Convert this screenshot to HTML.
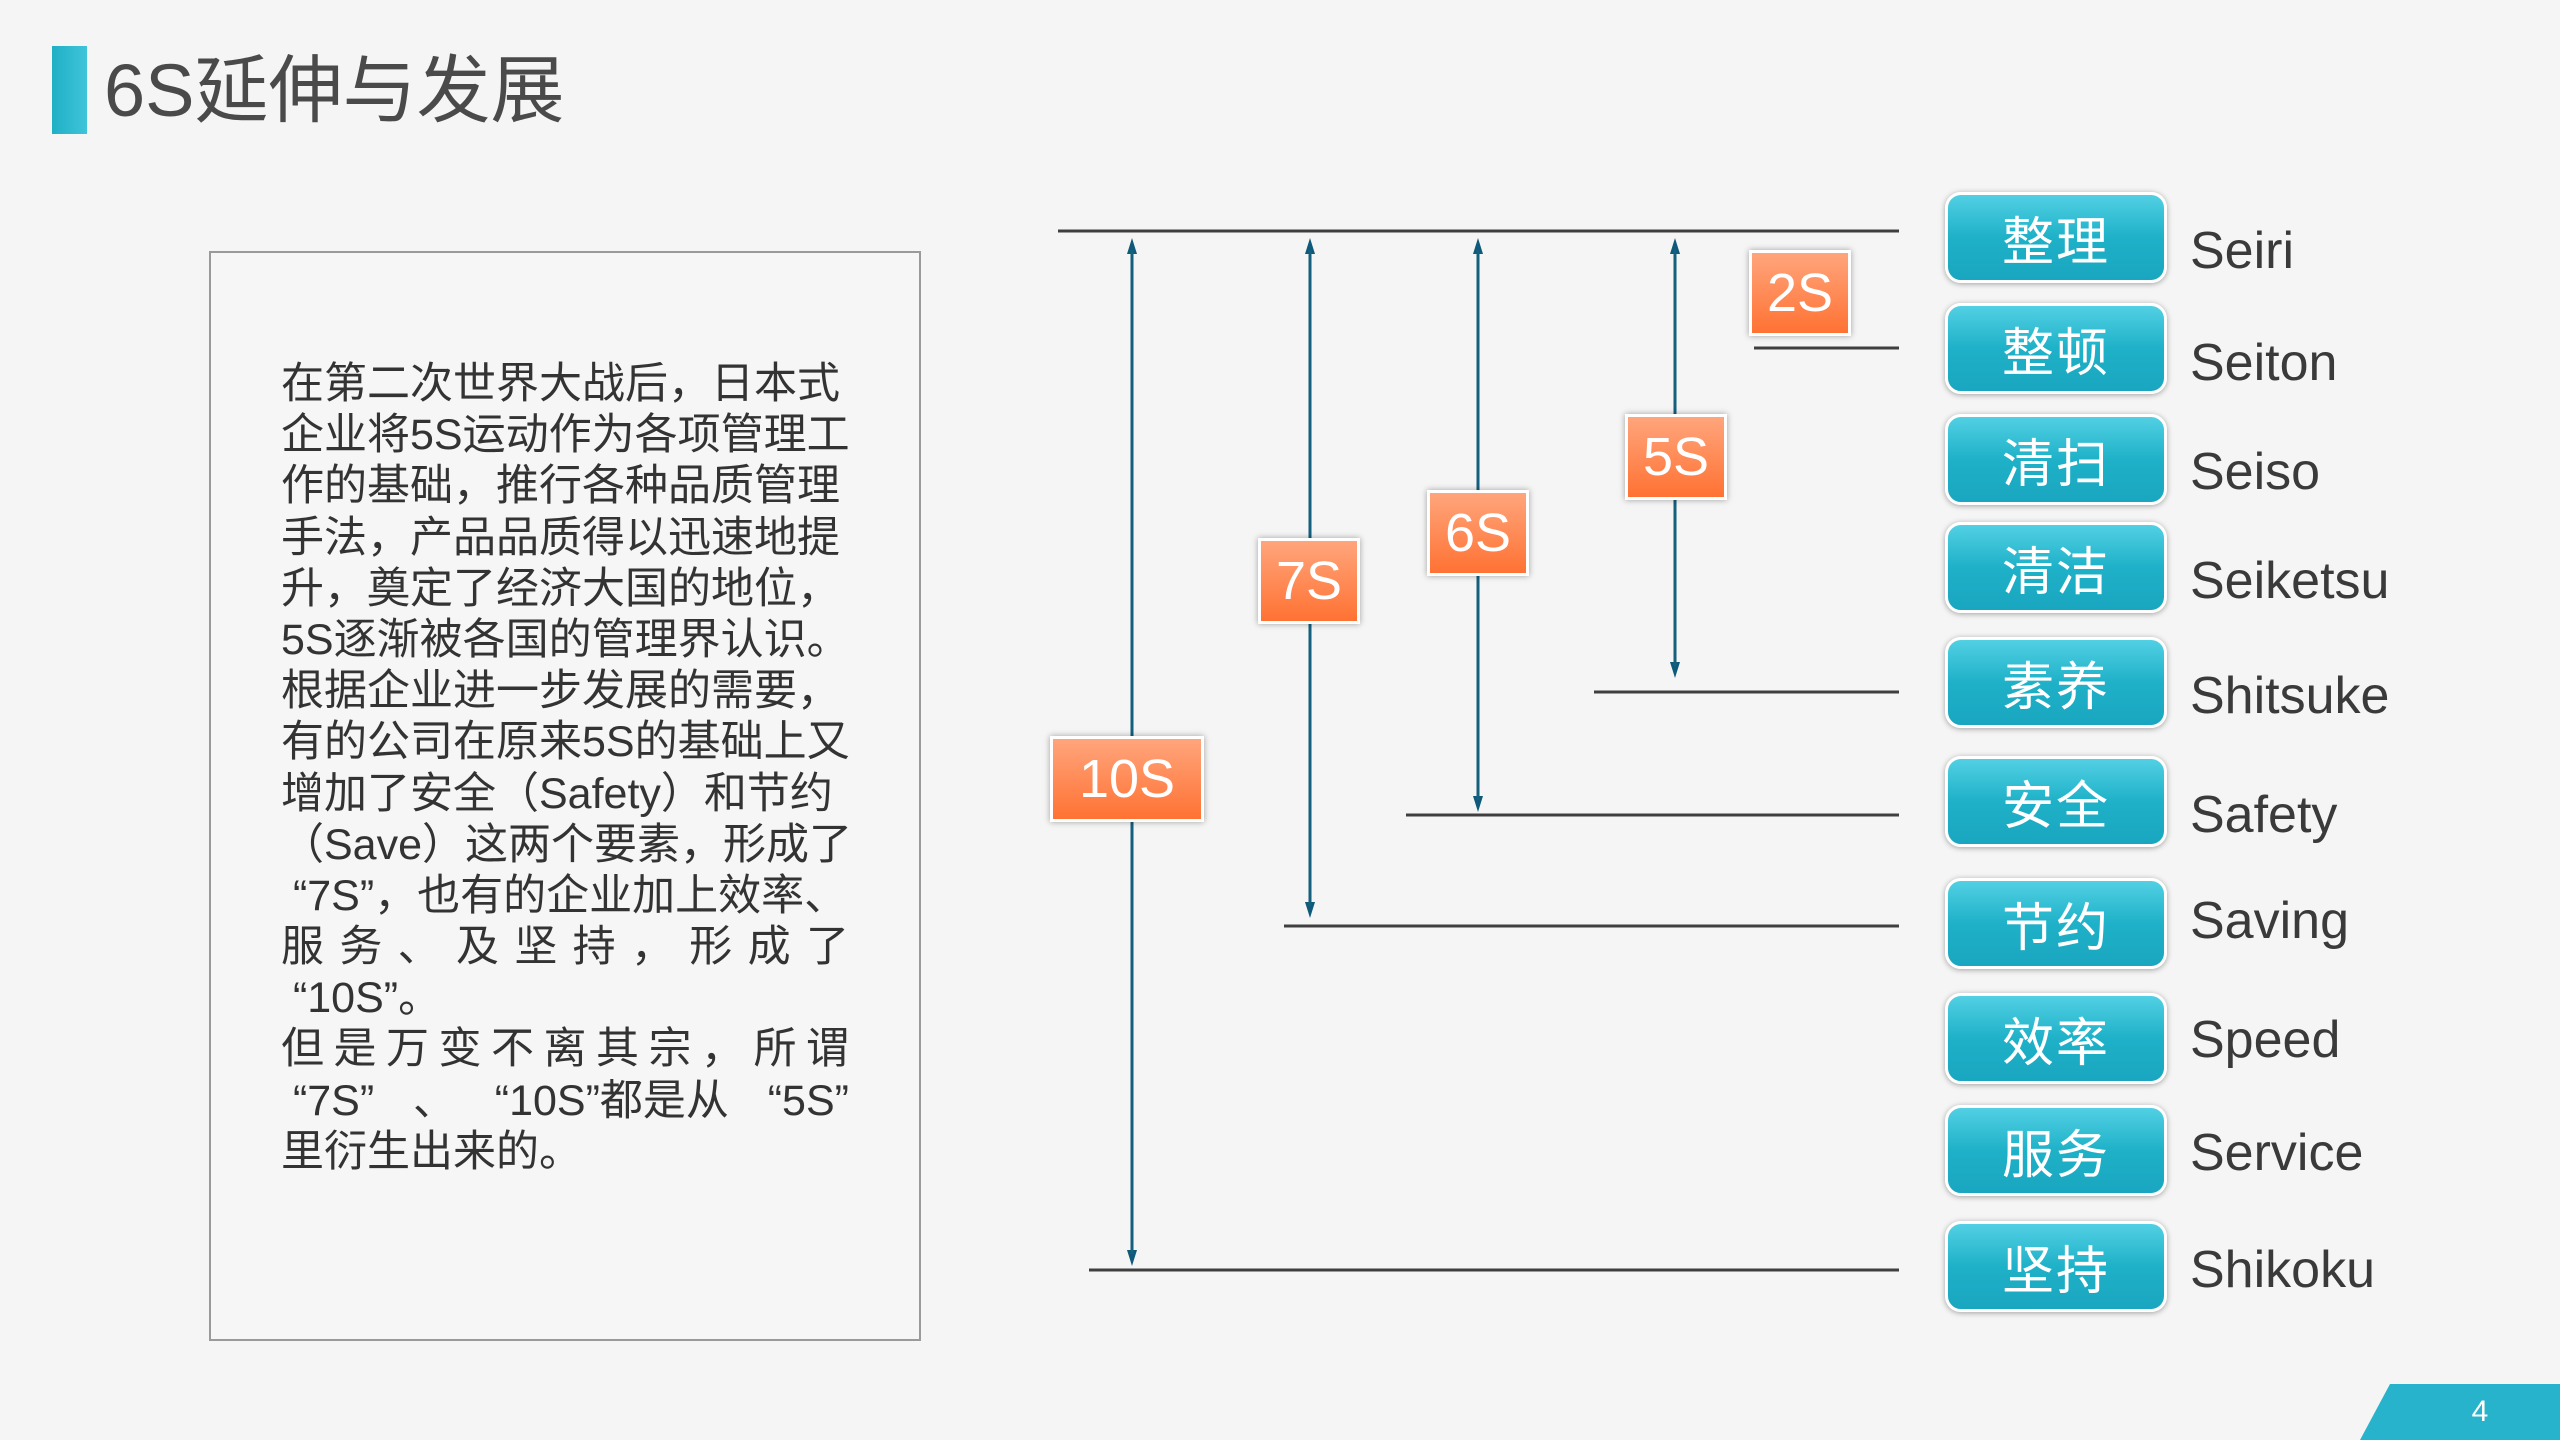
<!DOCTYPE html>
<html><head><meta charset="utf-8"><style>
body{margin:0;width:2560px;height:1440px;background:#f5f5f5;position:relative;overflow:hidden;font-family:"Liberation Sans","Noto Sans CJK SC",sans-serif;}
.a{position:absolute}
.t{position:absolute;left:281px;top:359px;width:568px;font-size:43px;line-height:51.2px;color:#333}
.t div{white-space:nowrap;height:51.2px}
.t div.j{display:flex;justify-content:space-between}
.ob{position:absolute;background:linear-gradient(#ffa57c,#ff7233);border:3px solid #fff;box-shadow:0 0 6px rgba(0,0,0,.35);color:#fff;font-size:54px;display:flex;align-items:center;justify-content:center;box-sizing:border-box}
.bb{position:absolute;left:1945px;width:222px;height:91px;border:3px solid #fff;border-radius:16px;box-sizing:border-box;background:linear-gradient(#52d0e4,#1eb1c8 50%,#1aa6c0);box-shadow:0 1px 6px rgba(0,0,0,.35);color:#fff;font-size:52px;display:flex;align-items:center;justify-content:center;letter-spacing:2px}
.en{position:absolute;left:2190px;font-size:52px;color:#3a3a3a;line-height:60px}
</style></head><body>
<div class="a" style="left:52px;top:46px;width:35px;height:88px;background:linear-gradient(90deg,#1fb0c6,#3fc4da)"></div>
<div class="a" style="left:104px;top:46px;font-size:74px;color:#4a4a4a;line-height:90px">6S延伸与发展</div>
<div class="a" style="left:209px;top:251px;width:708px;height:1086px;border:2px solid #9a9a9a;background:#f6f6f6"></div>
<div class="t">
<div>在第二次世界大战后，日本式</div>
<div>企业将5S运动作为各项管理工</div>
<div>作的基础，推行各种品质管理</div>
<div>手法，产品品质得以迅速地提</div>
<div>升，奠定了经济大国的地位，</div>
<div>5S逐渐被各国的管理界认识。</div>
<div>根据企业进一步发展的需要，</div>
<div>有的公司在原来5S的基础上又</div>
<div>增加了安全（Safety）和节约</div>
<div>（Save）这两个要素，形成了</div>
<div>&nbsp;“7S”，也有的企业加上效率、</div>
<div class="j"><span>服</span><span>务</span><span>、</span><span>及</span><span>坚</span><span>持</span><span>，</span><span>形</span><span>成</span><span>了</span></div>
<div>&nbsp;“10S”。</div>
<div class="j"><span>但</span><span>是</span><span>万</span><span>变</span><span>不</span><span>离</span><span>其</span><span>宗</span><span>，</span><span>所</span><span>谓</span></div>
<div class="j"><span>&nbsp;“7S”</span><span>、</span><span>“10S”都是从</span><span>“5S”</span></div>
<div>里衍生出来的。</div>
</div>
<svg class="a" style="left:0;top:0" width="2560" height="1440">
<g fill="#0f5a7a">
<polygon points="1132,238 1127,254 1137,254"/><polygon points="1132,1266 1127,1250 1137,1250"/>
<polygon points="1310,238 1305,254 1315,254"/><polygon points="1310,918 1305,902 1315,902"/>
<polygon points="1478,238 1473,254 1483,254"/><polygon points="1478,812 1473,796 1483,796"/>
<polygon points="1675,238 1670,254 1680,254"/><polygon points="1675,678 1670,662 1680,662"/>
</g>
<g stroke="#14607f" stroke-width="3">
<line x1="1132" y1="250" x2="1132" y2="1254"/>
<line x1="1310" y1="250" x2="1310" y2="906"/>
<line x1="1478" y1="250" x2="1478" y2="800"/>
<line x1="1675" y1="250" x2="1675" y2="666"/>
</g>
<g stroke="#3f3f3f" stroke-width="3">
<line x1="1058" y1="231" x2="1899" y2="231"/>
<line x1="1754" y1="348" x2="1899" y2="348"/>
<line x1="1594" y1="692" x2="1899" y2="692"/>
<line x1="1406" y1="815" x2="1899" y2="815"/>
<line x1="1284" y1="926" x2="1899" y2="926"/>
<line x1="1089" y1="1270" x2="1899" y2="1270"/>
</g>
</svg>
<div class="ob" style="left:1749px;top:250px;width:102px;height:86px">2S</div>
<div class="ob" style="left:1625px;top:414px;width:102px;height:86px">5S</div>
<div class="ob" style="left:1427px;top:490px;width:102px;height:86px">6S</div>
<div class="ob" style="left:1258px;top:538px;width:102px;height:86px">7S</div>
<div class="ob" style="left:1050px;top:736px;width:154px;height:86px">10S</div>
<div class="bb" style="top:192px">整理</div>
<div class="bb" style="top:303px">整顿</div>
<div class="bb" style="top:414px">清扫</div>
<div class="bb" style="top:522px">清洁</div>
<div class="bb" style="top:637px">素养</div>
<div class="bb" style="top:756px">安全</div>
<div class="bb" style="top:878px">节约</div>
<div class="bb" style="top:993px">效率</div>
<div class="bb" style="top:1105px">服务</div>
<div class="bb" style="top:1221px">坚持</div>
<div class="en" style="top:221px">Seiri</div>
<div class="en" style="top:333px">Seiton</div>
<div class="en" style="top:442px">Seiso</div>
<div class="en" style="top:551px">Seiketsu</div>
<div class="en" style="top:666px">Shitsuke</div>
<div class="en" style="top:785px">Safety</div>
<div class="en" style="top:891px">Saving</div>
<div class="en" style="top:1010px">Speed</div>
<div class="en" style="top:1123px">Service</div>
<div class="en" style="top:1240px">Shikoku</div>
<svg class="a" style="left:2360px;top:1384px" width="200" height="56"><polygon points="30,0 200,0 200,56 0,56" fill="#27b3cc"/><text x="120" y="37" font-size="30" fill="#fff" font-family="Liberation Sans" text-anchor="middle">4</text></svg>
</body></html>
